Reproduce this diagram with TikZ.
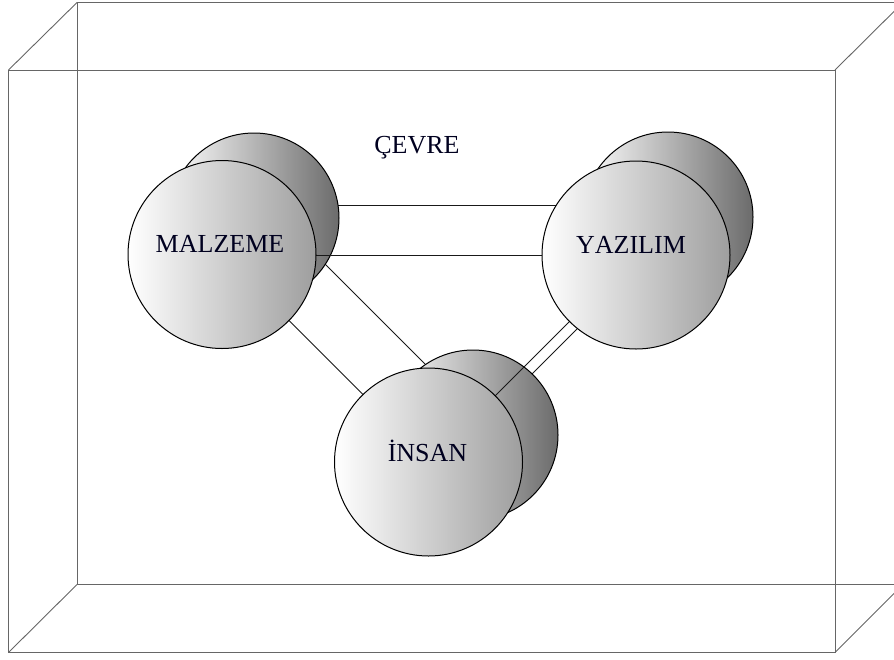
\documentclass[tikz,border=0pt]{standalone}
\usepackage{fontspec}
\setmainfont[Kerning=Off]{Liberation Serif}
\begin{document}
\begin{tikzpicture}[x=1pt,y=-1pt,
  boxline/.style={draw=black!60, line width=0.9pt},
  rod/.style={draw=black!90, line width=1pt},
  frontball/.style={circle, draw=black, line width=1pt, inner sep=0pt, minimum size=188pt, left color=white, right color=black!38},
  backball/.style={circle, draw=black, line width=1pt, inner sep=0pt, minimum size=170pt, left color=white, right color=black!58},
  lbl/.style={font=\fontsize{26}{30}\selectfont, text=black!88!blue, anchor=base, inner sep=0pt}]
\clip (0,0) rectangle (894,659);
% environment box
\coordinate (f1) at (8.5,70);
\coordinate (f2) at (835,70);
\coordinate (f3) at (835,652.5);
\coordinate (f4) at (8.5,652.5);
\coordinate (b1) at (77,2.5);
\coordinate (b2) at (903,2.5);
\coordinate (b3) at (903,584.5);
\coordinate (b4) at (77,584.5);
\draw[boxline] (b1) -- (b2) -- (b3) -- (b4) -- cycle;
\draw[boxline] (f1) -- (f2) -- (f3) -- (f4) -- cycle;
\draw[boxline] (f1) -- (b1);
\draw[boxline] (f2) -- (b2);
\draw[boxline] (f3) -- (b3);
\draw[boxline] (f4) -- (b4);
% rod end points
\coordinate (myA1) at (254,205);
\coordinate (myA2) at (636,205);
\coordinate (myB1) at (222,255);
\coordinate (myB2) at (636,255);
\coordinate (miA1) at (250,281.5);
\coordinate (miA2) at (400,431.5);
\coordinate (miB1) at (300,239);
\coordinate (miB2) at (450,389);
\coordinate (yiC1) at (590,301);
\coordinate (yiC2) at (470,421);
\coordinate (yiD1) at (600,306);
\coordinate (yiD2) at (510,396);
% hidden rod edges
\draw[rod] (myA1) -- (myA2);
\draw[rod] (miB1) -- (miB2);
\draw[rod] (yiD1) -- (yiD2);
% back halves of the spheres
\node[backball] (mb) at (254,218) {};
\node[backball] (yb) at (668,217) {};
\node[backball] (ib) at (473,435) {};
% visible rod edges
\draw[rod] (myB1) -- (myB2);
\draw[rod] (miA1) -- (miA2);
\draw[rod] (yiC1) -- (yiC2);
% front spheres
\node[frontball] (mf) at (222,254.5) {};
\node[frontball] (yf) at (636,255) {};
\node[frontball] (if) at (428.5,462) {};
% labels
\node[lbl] (tm) at (220,252) {MALZEME};
\node[lbl] (ty) at (631,253) {YAZILIM};
\node[lbl] (ti) at (427.5,461.5) {İNSAN};
\node[lbl] (tc) at (417,153) {ÇEVRE};
\end{tikzpicture}
\end{document}
